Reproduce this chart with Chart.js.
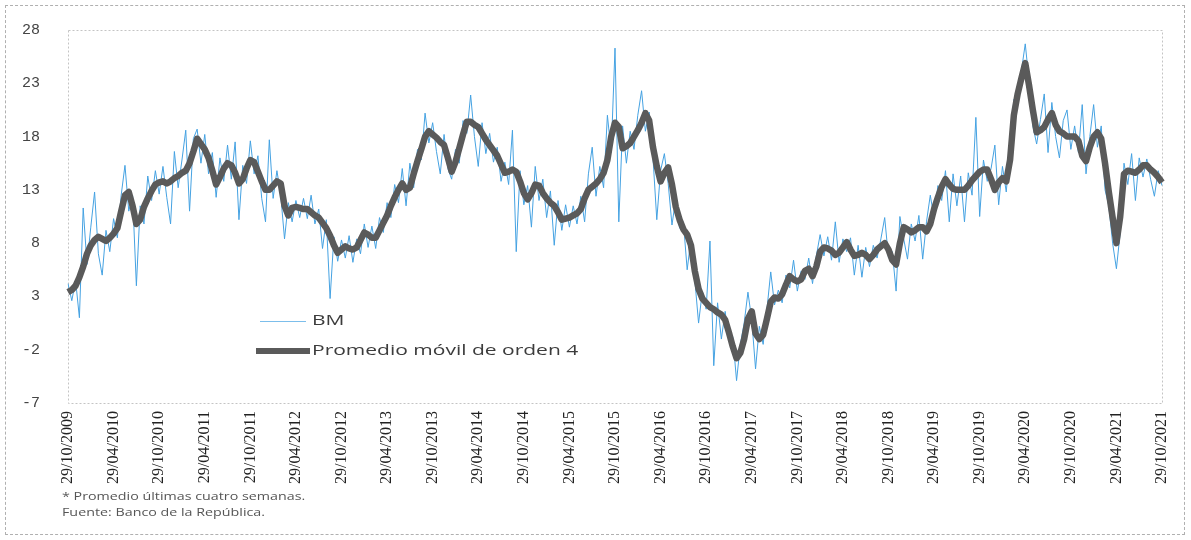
<!DOCTYPE html>
<html>
<head>
<meta charset="utf-8">
<script src="https://cdn.jsdelivr.net/npm/chart.js@4.4.0/dist/chart.umd.min.js"></script>
<style>
  html, body { margin: 0; padding: 0; background: #fff; }
  #wrap { position: relative; width: 1191px; height: 540px; overflow: hidden; }
  #frame { position: absolute; left: 5px; top: 5px; width: 1178px; height: 528px; border: 1px dashed #b0b0b0; }
  #chart { position: absolute; left: 0; top: 0; }
  .legItem { position: absolute; left: 256px; height: 20px; white-space: nowrap; }
  .legItem span.swatch { position: absolute; left: 0; top: 50%; width: 54px; }
  .legItem span.txt { position: absolute; left: 56px; top: -2px; font-family: 'Open Sans', sans-serif; font-size: 15px;
    color: #3c3c3c; transform: scaleX(1.4); transform-origin: left center; }
  .note { position: absolute; left: 62px; font-family: 'Open Sans', sans-serif; font-size: 10.5px; color: #555;
    transform: scaleX(1.36); transform-origin: left center; white-space: nowrap; }
</style>
</head>
<body>
<div id="wrap">
  <div id="frame"></div>
  <canvas id="chart" width="1191" height="540"></canvas>
  <div id="legend"></div>
  <div class="note" style="top:489px">* Promedio últimas cuatro semanas.</div>
  <div class="note" style="top:505px">Fuente: Banco de la República.</div>
</div>
<script>
'use strict';

// tick labels, every 6 months
let tickLabels = ['29/10/2009', '29/04/2010', '29/10/2010', '29/04/2011', '29/10/2011', '29/04/2012',
  '29/10/2012', '29/04/2013', '29/10/2013', '29/04/2014', '29/10/2014', '29/04/2015', '29/10/2015',
  '29/04/2016', '29/10/2016', '29/04/2017', '29/10/2017', '29/04/2018', '29/10/2018', '29/04/2019',
  '29/10/2019', '29/04/2020', '29/10/2020', '29/04/2021', '29/10/2021'];
let pointsPerTick = 12; // one row = half a year

// BM (thin blue line)
let bm = [
  4.2, 2.6, 4.5, 1.0, 11.3, 6.0, 9.5, 12.8, 7.0, 5.0, 9.2, 7.2,
  10.3, 8.5, 12.5, 15.3, 11.0, 12.5, 4.0, 11.5, 9.8, 14.3, 12.0, 14.8,
  12.6, 15.2, 12.3, 9.8, 16.6, 13.2, 15.8, 18.6, 11.0, 17.8, 18.7, 15.5,
  18.2, 14.5, 16.5, 12.3, 16.0, 13.8, 17.2, 14.0, 17.5, 10.2, 15.3, 13.6,
  17.6, 14.5, 16.2, 12.2, 10.0, 17.7, 12.2, 14.8, 12.5, 8.4, 11.8, 10.0,
  12.0, 10.4, 12.2, 10.3, 12.5, 9.8, 11.2, 7.5, 10.2, 2.8, 8.6, 6.3,
  8.3, 6.6, 8.7, 6.2, 8.4, 7.0, 9.8, 7.6, 9.6, 7.5, 10.4, 9.0,
  11.8, 10.4, 13.5, 11.8, 15.0, 11.5, 15.5, 13.2, 16.8, 15.8, 20.2, 17.4,
  19.3, 16.6, 14.5, 18.2, 15.0, 14.0, 16.8, 15.5, 19.5, 18.3, 21.9, 18.0,
  15.2, 19.3, 16.4, 18.3, 15.6, 17.0, 13.8, 15.6, 13.5, 18.6, 7.2, 14.8,
  11.6, 13.4, 9.5, 15.2, 12.0, 14.0, 10.4, 12.9, 7.8, 12.0, 9.2, 11.6,
  9.5, 11.5, 9.8, 12.4, 10.0, 14.5, 17.0, 12.4, 15.2, 13.2, 20.0, 16.5,
  26.3, 10.0, 19.0, 15.5, 18.5, 16.8, 20.0, 22.3, 18.5, 20.3, 16.0, 10.2,
  14.8, 16.4, 13.6, 9.7, 12.2, 9.4, 10.0, 5.5, 8.4, 4.6, 0.5, 3.5,
  1.8, 8.2, -3.5, 2.4, -1.0, 1.6, -1.2, -0.8, -4.9, -1.5, 0.5, 3.4,
  0.8, -3.8, 0.2, -1.5, 1.8, 5.3, 2.2, 3.6, 2.4, 5.0, 3.8, 6.4,
  3.5, 5.4, 4.6, 6.6, 4.2, 6.8, 8.8, 6.8, 8.6, 6.4, 10.0, 6.2,
  8.4, 7.2, 8.5, 5.0, 7.8, 4.8, 7.6, 5.8, 7.8, 6.6, 8.4, 10.4,
  6.6, 7.2, 3.5, 10.5, 8.4, 6.5, 9.8, 8.2, 10.6, 6.5, 10.0, 12.5,
  10.3, 13.4, 12.0, 14.8, 10.0, 14.5, 11.5, 14.3, 10.0, 14.6, 12.5, 19.8,
  10.5, 15.8, 13.8, 15.0, 17.2, 11.6, 15.2, 12.8, 17.0, 21.5, 21.0, 24.2,
  26.7, 23.2, 19.0, 17.3, 19.6, 22.0, 16.5, 21.2, 18.0, 16.0, 19.5, 20.5,
  16.8, 19.0, 16.5, 21.0, 14.5, 18.0, 21.0, 17.0, 19.0, 13.0, 11.5, 8.0,
  5.6, 9.0, 15.5, 13.5, 16.4, 12.0, 16.0, 14.2, 15.9, 14.0, 12.4, 14.8,
  13.4
];

// Promedio movil de orden 4 (thick grey line)
let movingAvg = [
  3.4, 3.6, 4.0, 4.8, 5.8, 7.0, 7.8, 8.3, 8.6, 8.4, 8.2, 8.5,
  8.9, 9.4, 11.0, 12.5, 12.8, 11.5, 9.8, 10.2, 11.4, 12.2, 12.9, 13.5,
  13.7, 13.8, 13.6, 13.8, 14.1, 14.3, 14.6, 14.8, 15.5, 16.6, 17.8, 17.3,
  16.8, 16.0, 14.8, 13.5, 14.2, 15.0, 15.5, 15.3, 14.6, 13.6, 14.0, 15.0,
  15.8, 15.6, 14.7, 13.8, 13.0, 13.0, 13.4, 13.8, 13.6, 11.5, 10.6, 11.3,
  11.4, 11.3, 11.2, 11.2, 10.9, 10.6, 10.4, 9.9, 9.4, 8.7, 7.8, 7.1,
  7.4, 7.7, 7.5, 7.4, 7.6, 8.3, 9.0, 8.8, 8.5, 8.5, 9.2, 9.9,
  10.6, 11.5, 12.3, 13.0, 13.6, 13.0, 13.2, 14.5, 15.7, 16.8, 18.0, 18.5,
  18.2, 17.9, 17.5, 17.2, 16.0, 14.7, 15.6, 16.9, 18.2, 19.4, 19.4, 19.1,
  18.9, 18.3, 17.7, 17.2, 16.7, 16.2, 15.4, 14.6, 14.7, 14.9, 14.7, 13.8,
  12.7, 12.1, 12.7, 13.5, 13.4, 12.7, 12.2, 11.8, 11.5, 10.9, 10.2, 10.3,
  10.4, 10.6, 10.8, 11.2, 12.2, 13.0, 13.3, 13.6, 14.0, 14.6, 15.8, 18.0,
  19.3, 18.9, 16.9, 17.1, 17.4, 18.0, 18.6, 19.3, 20.2, 19.5, 17.0, 15.2,
  13.8, 14.6, 15.1, 13.5, 11.4, 10.2, 9.3, 8.8, 7.8, 5.4, 3.7, 2.8,
  2.4, 2.0, 1.8, 1.5, 1.3, 0.8, -0.4, -1.7, -2.8, -2.3, -1.0, 0.9,
  1.6, -0.5, -1.0, -0.6, 0.9, 2.5, 2.9, 2.8, 3.2, 4.1, 4.9, 4.6,
  4.4, 4.6, 5.4, 5.6, 4.9, 5.8, 7.2, 7.6, 7.5, 7.3, 6.9, 7.1,
  7.6, 8.1, 7.4, 6.8, 6.9, 7.1, 6.9, 6.5, 6.9, 7.4, 7.7, 8.0,
  7.4, 6.4, 6.0, 8.0, 9.5, 9.3, 9.0, 9.2, 9.5, 9.5, 9.1, 9.8,
  11.2, 12.3, 13.3, 14.0, 13.5, 13.1, 13.0, 13.0, 13.0, 13.4, 13.9, 14.3,
  14.7, 14.9, 14.9, 14.0, 13.0, 13.7, 14.1, 13.8, 15.8, 20.0, 22.0, 23.5,
  24.9, 22.8, 20.5, 18.4, 18.6, 18.9, 19.6, 20.2, 19.1, 18.5, 18.3, 18.0,
  18.0, 18.0, 17.6, 16.2, 15.7, 17.0, 18.0, 18.4, 17.8, 15.5, 12.8, 10.4,
  8.0, 10.5, 14.5, 14.8, 14.7, 14.6, 14.9, 15.3, 15.3, 14.9, 14.6, 14.2,
  13.7
];

// y axis ticks
let yMin = -7;
let yMax = 28;
let yStep = 5;

// one category per point, only every 12th one carries a date
let categories = [];
for (let i = 0; i < bm.length; i++) {
  categories.push(i % pointsPerTick === 0 ? tickLabels[i / pointsPerTick] : '');
}

// dotted frame round the plot area
const plotFrame = {
  id: 'plotFrame',
  beforeDatasetsDraw(chart) {
    let a = chart.chartArea;
    let ctx = chart.ctx;
    ctx.save();
    ctx.strokeStyle = '#c4c4c4';
    ctx.lineWidth = 1;
    ctx.setLineDash([2, 2]);
    ctx.strokeRect(a.left + 0.5, a.top + 0.5, a.right - a.left, a.bottom - a.top);
    ctx.restore();
  }
};

function buildChart() {
  let chart = new Chart(document.getElementById('chart'), {
    type: 'line',
    data: {
      labels: categories,
      datasets: [
        {
          label: 'BM',
          data: bm,
          borderColor: '#45a2e2',
          borderWidth: 1,
          pointRadius: 0,
          order: 2
        },
        {
          label: 'Promedio móvil de orden 4',
          data: movingAvg,
          borderColor: '#5a5a5a',
          borderWidth: 6.5,
          pointRadius: 0,
          borderJoinStyle: 'round',
          order: 1
        }
      ]
    },
    options: {
      responsive: false,
      animation: false,
      layout: { padding: { top: 30, right: 29, left: 0, bottom: 0 } },
      plugins: { legend: { display: false }, tooltip: { enabled: false } },
      scales: {
        x: {
          grid: { display: false, drawTicks: false },
          border: { display: false },
          ticks: {
            autoSkip: false,
            minRotation: 90,
            maxRotation: 90,
            padding: 8,
            color: '#222',
            font: { family: "'Liberation Serif', 'DejaVu Serif', serif", size: 16 },
            callback: (v, i) => categories[i]
          },
          afterFit: (scale) => { scale.height = 540 - 403; }
        },
        y: {
          min: yMin,
          max: yMax,
          grid: { display: false, drawTicks: false },
          border: { display: false },
          ticks: {
            stepSize: yStep,
            padding: 28,
            color: '#444',
            font: { family: "'Liberation Mono', 'DejaVu Sans Mono', monospace", size: 15 }
          },
          afterFit: (scale) => {
            scale.width = 68;
            // the tick padding should not push the plot down
            scale.paddingTop = 8;
            scale.paddingBottom = 8;
          }
        }
      }
    },
    plugins: [plotFrame]
  });

  // legend inside the plot, built from the datasets
  let legend = document.getElementById('legend');
  let legendTops = [311, 341];
  chart.data.datasets.forEach((ds, i) => {
    let item = document.createElement('div');
    item.className = 'legItem';
    item.style.top = legendTops[i] + 'px';
    let sw = document.createElement('span');
    sw.className = 'swatch';
    sw.style.height = ds.borderWidth + 'px';
    sw.style.marginTop = (-ds.borderWidth / 2) + 'px';
    sw.style.background = ds.borderColor;
    if (i === 0) { sw.style.opacity = '0.7'; sw.style.left = '4px'; sw.style.width = '46px'; }
    let txt = document.createElement('span');
    txt.className = 'txt';
    txt.textContent = ds.label;
    item.appendChild(sw);
    item.appendChild(txt);
    legend.appendChild(item);
  });
}

Promise.all([
  document.fonts.load('16px "Liberation Serif"'),
  document.fonts.load('15px "Liberation Mono"')
]).then(buildChart, buildChart);
</script>
</body>
</html>
